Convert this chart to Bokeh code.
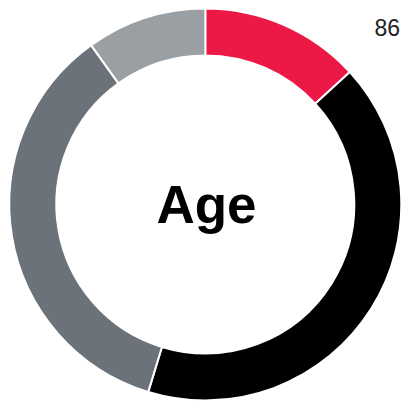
import numpy as np
from bokeh.plotting import figure
from bokeh.models import Range1d, ColumnDataSource
from bokeh.core.properties import value
from bokeh.embed import file_html
from bokeh.resources import INLINE

# Data (shares of the ring, clockwise from 12 o'clock)
categories = ["Group A", "Group B", "Group C", "Group D"]
shares = [13.2, 41.5, 35.4, 9.9]
colors = ["#EC1846", "#000000", "#6B7279", "#9A9FA3"]
center_label = "Age"
corner_label = "86"

W, H = 402, 404
p = figure(width=W, height=H, output_backend="svg", toolbar_location=None,
           x_range=Range1d(0, W), y_range=Range1d(-H, 0), min_border=0)
p.axis.visible = False
p.grid.visible = False
p.outline_line_color = None
p.background_fill_color = "white"
p.border_fill_color = "white"

frac = np.array(shares) / np.sum(shares)
cum = np.concatenate([[0], np.cumsum(frac)])
start = np.pi / 2 - 2 * np.pi * cum[:-1]
end = np.pi / 2 - 2 * np.pi * cum[1:]

cx, cy = 204.8, -203.9
src = ColumnDataSource(dict(cat=categories, start=start, end=end, color=colors))
p.annular_wedge(x=cx, y=cy, inner_radius=149, outer_radius=196,
                start_angle="start", end_angle="end", direction="clock",
                fill_color="color", line_color="white", line_width=2,
                source=src)

p.text(x=[206], y=[-204], text=[center_label], text_align="center",
       text_baseline="alphabetic", text_font=value("Liberation Sans"),
       text_font_style="bold", text_font_size="53px", text_color="#000000")
p.text(x=[374], y=[-26.5], text=[corner_label], text_align="left",
       text_baseline="alphabetic", text_font=value("Liberation Sans"),
       text_font_size="23px", text_color="#222222")

open("out.html", "w").write(file_html(p, INLINE))
